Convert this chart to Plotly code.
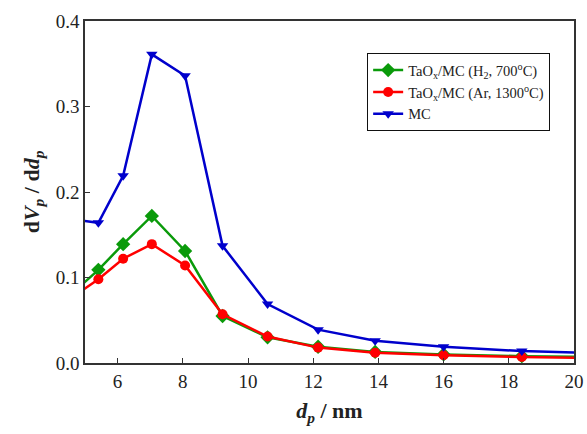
import plotly.graph_objects as go

# pore diameter (nm)
dp = [4.8, 5.41, 6.17, 7.05, 8.07, 9.22, 10.6, 12.15, 13.9, 16.0, 18.4, 21.5]

mc = [0.167, 0.164, 0.219, 0.361, 0.336, 0.137, 0.069, 0.039, 0.026, 0.019, 0.014, 0.0105]
taox_h2 = [0.088, 0.109, 0.139, 0.172, 0.131, 0.055, 0.030, 0.019, 0.013, 0.010, 0.008, 0.0065]
taox_ar = [0.082, 0.098, 0.122, 0.139, 0.114, 0.057, 0.031, 0.018, 0.012, 0.009, 0.007, 0.0055]

names = ["TaO<sub>x</sub>/MC (H<sub>2</sub>, 700<sup>o</sup>C)",
         "TaO<sub>x</sub>/MC (Ar, 1300<sup>o</sup>C)",
         "MC"]
colors = ["#0a9a0a", "#ff0000", "#0000cc"]
symbols = ["diamond", "circle", "triangle-down"]

x_ticks = [6, 8, 10, 12, 14, 16, 18, 20]
y_ticks = [0.0, 0.1, 0.2, 0.3, 0.4]

fig = go.Figure()
for y, n, c, s in zip([taox_h2, taox_ar, mc], names, colors, symbols):
    fig.add_trace(go.Scatter(
        x=dp, y=y, name=n, mode="lines+markers",
        line=dict(color=c, width=2.5),
        marker=dict(color=c, symbol=s, size=10 if s != "diamond" else 11),
    ))

font_family = "Liberation Serif, Times New Roman, serif"
fig.update_layout(
    width=587, height=434,
    margin=dict(l=85, r=13, t=21, b=71),
    paper_bgcolor="white", plot_bgcolor="white",
    font=dict(family=font_family, size=19, color="#222"),
    showlegend=True,
    legend=dict(
        x=0.577, y=0.906, xanchor="left", yanchor="top",
        bgcolor="white", bordercolor="#111", borderwidth=1,
        font=dict(family=font_family, size=14.5, color="#222"),
        itemwidth=30,
    ),
    xaxis=dict(
        range=[5, 20], tickvals=x_ticks, ticktext=[str(t) for t in x_ticks],
        ticks="inside", ticklen=5, tickcolor="#333",
        showline=True, linecolor="#333", linewidth=1.5, mirror=True,
        showgrid=False, zeroline=False, automargin=False,
        title=dict(text="<b><i>d<sub>p</sub></i> / nm</b>", font=dict(size=22), standoff=12),
    ),
    yaxis=dict(
        range=[0, 0.4], tickvals=y_ticks, ticktext=[f"{t:.1f}" for t in y_ticks],
        ticks="inside", ticklen=5, tickcolor="#333",
        showline=True, linecolor="#333", linewidth=1.5, mirror=True,
        showgrid=False, zeroline=False, automargin=False,
        title=dict(text="<b>d<i>V<sub>p</sub></i> / d<i>d<sub>p</sub></i></b>", font=dict(size=22), standoff=10),
    ),
)

fig.write_html("out.html")
